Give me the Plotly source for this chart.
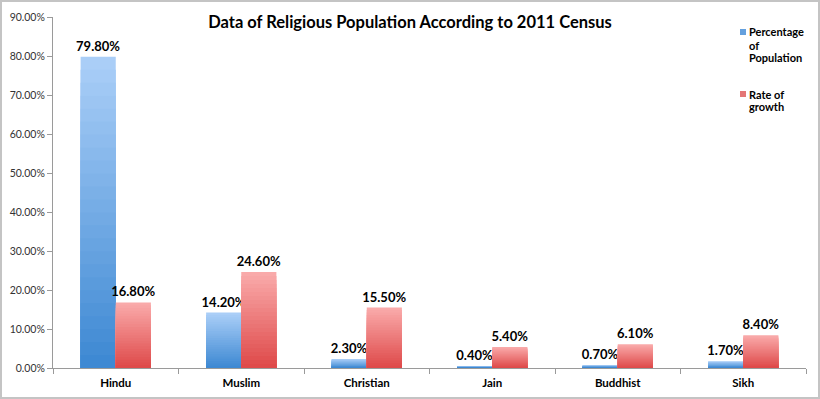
import plotly.graph_objects as go

categories = ["Hindu", "Muslim", "Christian", "Jain", "Buddhist", "Sikh"]
population_pct = [0.798, 0.142, 0.023, 0.004, 0.007, 0.017]
growth_rate = [0.168, 0.246, 0.155, 0.054, 0.061, 0.084]
series_names = ["Percentage of Population", "Rate of growth"]
legend_lines = [["Percentage", "of", "Population"], ["Rate of", "growth"]]

W, H = 820, 399
L, R, T, B = 53, 14, 17, 31
PW, PH = W - L - R, H - T - B
FONT = "Lato"

def lerp(c1, c2, t):
    return "rgb(%d,%d,%d)" % tuple(round(a + (b - a) * t) for a, b in zip(c1, c2))

blue_bottom, blue_top = (60, 135, 210), (172, 208, 248)
red_bottom, red_top = (222, 72, 72), (250, 172, 172)

fig = go.Figure()
N = 24
bar_w = 0.28
specs = [
    (population_pct, blue_bottom, blue_top, -bar_w, series_names[0]),
    (growth_rate, red_bottom, red_top, 0.0, series_names[1]),
]
for si, (vals, cb, ct, off, name) in enumerate(specs):
    for k in range(N):
        frac = (N - k) / N
        mid = (N - k - 0.5) / N
        fig.add_trace(go.Bar(
            x=categories, y=[v * frac for v in vals],
            width=bar_w, offset=off,
            marker=dict(color=lerp(cb, ct, mid), line=dict(width=0)),
            text=[f"{v*100:.2f}%" for v in vals] if k == 0 else None,
            textposition="outside" if k == 0 else "none",
            constraintext="none",
            textfont=dict(family=FONT, size=13, color="black", weight="bold"),
            cliponaxis=False,
            showlegend=False, hoverinfo="skip" if k else None, name=name,
        ))

def px_x(x):
    return (x - L) / PW

def px_y(y):
    return 1 - (y - T) / PH

shapes = [dict(type="rect", xref="paper", yref="paper",
               x0=px_x(1), x1=px_x(W - 1), y0=px_y(H - 1), y1=px_y(1),
               line=dict(color="#c4c4c4", width=2), layer="above")]
annotations = []
legend_colors = ["rgb(100,160,222)", "rgb(228,118,118)"]
legend_tops = [32, 94]
for lines, col, y0 in zip(legend_lines, legend_colors, legend_tops):
    shapes.append(dict(type="rect", xref="paper", yref="paper",
                       x0=px_x(740), x1=px_x(746), y0=px_y(y0 + 3), y1=px_y(y0 - 3),
                       fillcolor=col, line=dict(width=0)))
    for i, line in enumerate(lines):
        annotations.append(dict(text=f"<b>{line}</b>", xref="paper", yref="paper",
                                x=px_x(747), y=px_y(y0 + 13 * i), xanchor="left", yanchor="middle",
                                showarrow=False, font=dict(family=FONT, size=11, color="black")))

fig.update_layout(
    width=W, height=H,
    margin=dict(l=L, r=R, t=T, b=B, autoexpand=False),
    barmode="overlay",
    paper_bgcolor="white", plot_bgcolor="white",
    font=dict(family=FONT, color="black"),
    title=dict(text="<b>Data of Religious Population According to 2011 Census</b>",
               x=410 / W, xref="container", xanchor="center",
               y=1 - 22 / H, yref="container", yanchor="middle",
               font=dict(family=FONT, size=16.5, color="black")),
    showlegend=False,
    xaxis=dict(type="category", showline=True, linecolor="#9a9a9a", linewidth=1, automargin=False,
               ticks="outside", ticklen=5, tickcolor="#9a9a9a", tickson="boundaries",
               ticklabelstandoff=4,
               tickfont=dict(family=FONT, size=11.5, color="black", weight="bold"),
               showgrid=False, range=[-0.5, 5.5]),
    yaxis=dict(range=[0, 0.9], dtick=0.1, tickformat=".2%", showline=True, linecolor="#9a9a9a",
               linewidth=1, ticks="outside", ticklen=5, tickcolor="#9a9a9a", showgrid=False,
               zeroline=False, automargin=False, tickfont=dict(family=FONT, size=10.5, color="#333333")),
    shapes=shapes,
    annotations=annotations,
)

fig.write_html("out.html", config={"displayModeBar": False},
               post_script="document.body.style.margin='0';document.body.style.padding='0';")
